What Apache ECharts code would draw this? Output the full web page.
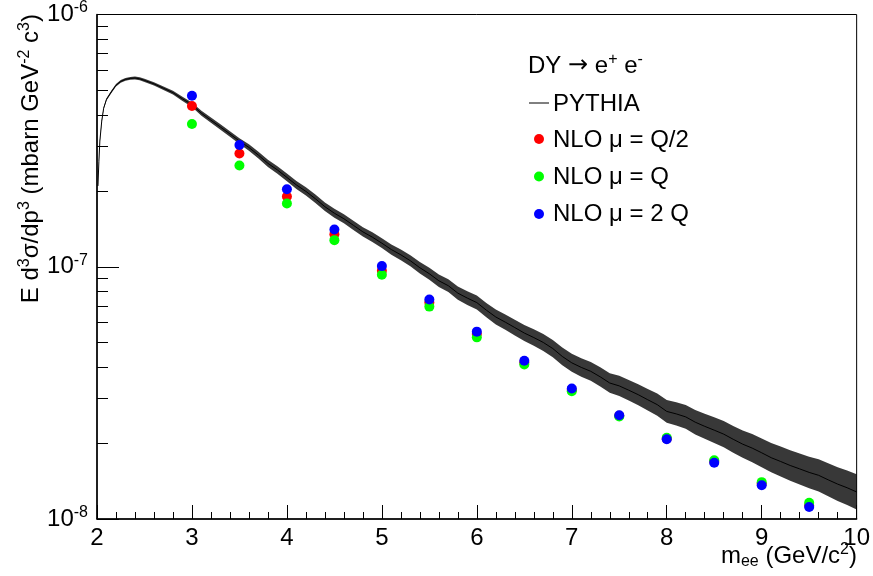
<!DOCTYPE html>
<html><head><meta charset="utf-8">
<script src="https://cdn.jsdelivr.net/npm/echarts@6/dist/echarts.min.js"></script>
<style>html,body{margin:0;padding:0;background:#fff}#c{width:873px;height:576px}</style>
</head><body><div id="c"></div>
<script>
// ---- data ----
const xTickLabels = [2,3,4,5,6,7,8,9,10];
const yMinorTicks = [2e-8,3e-8,4e-8,5e-8,6e-8,7e-8,8e-8,9e-8,2e-7,3e-7,4e-7,5e-7,6e-7,7e-7,8e-7,9e-7];

const pythiaX = [2.01,2.02,2.03,2.05,2.07,2.1,2.15,2.2,2.25,2.3,2.35,2.4,2.45,2.5,
  2.6,2.7,2.8,2.9,3.0,3.1,3.2,3.3,3.4,3.5,3.6,3.7,3.8,3.9,4.0,4.1,4.2,4.3,4.4,4.5,4.6,4.7,4.8,4.9,
  5.0,5.1,5.2,5.3,5.4,5.5,5.6,5.7,5.8,5.9,6.0,6.1,6.2,6.3,6.4,6.5,6.6,6.7,6.8,6.9,
  7.0,7.1,7.2,7.3,7.4,7.5,7.6,7.7,7.8,7.9,8.0,8.1,8.2,8.3,8.4,8.5,8.6,8.7,8.8,8.9,
  9.0,9.1,9.2,9.3,9.4,9.5,9.6,9.7,9.8,9.9,10.0];
const pythia = [2.09e-7,2.62e-7,3.15e-7,3.78e-7,4.25e-7,4.61e-7,4.93e-7,5.24e-7,5.43e-7,5.53e-7,5.58e-7,5.60e-7,5.56e-7,5.48e-7,
  5.31e-7,5.10e-7,4.90e-7,4.63e-7,4.39e-7,4.06e-7,3.81e-7,3.58e-7,3.36e-7,3.15e-7,2.97e-7,2.77e-7,2.57e-7,2.42e-7,
  2.26e-7,2.11e-7,1.99e-7,1.86e-7,1.73e-7,1.63e-7,1.55e-7,1.46e-7,1.375e-7,1.31e-7,
  1.24e-7,1.17e-7,1.115e-7,1.056e-7,9.91e-8,9.38e-8,8.80e-8,8.41e-8,7.86e-8,7.51e-8,
  7.21e-8,6.73e-8,6.32e-8,6.03e-8,5.74e-8,5.46e-8,5.24e-8,5.01e-8,4.74e-8,4.41e-8,
  4.16e-8,3.99e-8,3.85e-8,3.66e-8,3.46e-8,3.37e-8,3.24e-8,3.11e-8,2.97e-8,2.84e-8,
  2.67e-8,2.61e-8,2.54e-8,2.42e-8,2.33e-8,2.25e-8,2.17e-8,2.07e-8,1.98e-8,1.91e-8,
  1.83e-8,1.75e-8,1.69e-8,1.63e-8,1.58e-8,1.53e-8,1.49e-8,1.43e-8,1.375e-8,1.33e-8,1.28e-8];
// statistical fluctuation (percent) of the PYTHIA histogram around its trend
const pythiaSpread = [1.0,1.0,1.0,1.0,1.0,1.0,1.1,1.2,1.2,1.3,1.3,1.3,1.4,1.4,
  1.5,1.6,1.7,1.9,2.1,2.3,2.4,2.5,2.6,2.7,2.9,3.1,3.3,3.5,3.6,3.7,3.8,3.9,4.0,4.1,4.2,4.3,4.4,4.5,
  4.6,4.8,5.0,5.2,5.4,5.6,5.8,6.0,6.2,6.4,6.6,6.8,7.0,7.2,7.4,7.6,7.8,8.0,8.2,8.4,
  8.6,8.8,9.0,9.2,9.4,9.6,9.8,10.0,10.3,10.6,10.9,11.2,11.5,11.8,12.1,12.4,12.7,13.0,13.3,13.7,
  14.0,14.3,14.6,14.9,15.2,15.5,15.9,16.3,16.7,17.1,17.5];

const nloX = [3,3.5,4,4.5,5,5.5,6,6.5,7,7.5,8,8.5,9,9.5];
const nloHalfQ = [4.34e-7,2.81e-7,1.90e-7,1.346e-7,9.64e-8,7.21e-8,5.41e-8,4.17e-8,3.25e-8,2.565e-8,2.08e-8,1.69e-8,1.38e-8,1.13e-8];
const nloQ     = [3.68e-7,2.52e-7,1.78e-7,1.275e-7,9.30e-8,6.95e-8,5.25e-8,4.10e-8,3.21e-8,2.55e-8,2.10e-8,1.71e-8,1.40e-8,1.16e-8];
const nlo2Q    = [4.76e-7,3.04e-7,2.03e-7,1.406e-7,1.006e-7,7.41e-8,5.53e-8,4.24e-8,3.29e-8,2.58e-8,2.07e-8,1.67e-8,1.36e-8,1.115e-8];

// ---- chart ----
const FONT = '"Liberation Sans", Arial, Helvetica, sans-serif';
const FS = 24;
const zip = (xs, ys) => xs.map((x, i) => [x, ys[i]]);
const chart = echarts.init(document.getElementById('c'), null, {renderer: 'canvas'});

const supStyle = {fontSize: 16, fontFamily: FONT, color: '#000', padding: [0, 0, 13, 0]};
const subStyle = {fontSize: 16, fontFamily: FONT, color: '#000', padding: [11, 0, 0, 0]};
const baseStyle = (s) => ({fontSize: s, fontFamily: FONT, color: '#000'});

const option = {
  animation: false,
  backgroundColor: '#fff',
  grid: {left: 97, right: 16, top: 13, bottom: 57, show: true, borderColor: '#000', borderWidth: 1, backgroundColor: 'transparent'},
  xAxis: {
    type: 'value', min: 2, max: 10, interval: 1,
    axisLine: {lineStyle: {color: '#000', width: 1.5}},
    axisTick: {inside: true, length: 14, lineStyle: {color: '#000', width: 1}},
    minorTick: {show: true, splitNumber: 5, length: 7, lineStyle: {color: '#000', width: 1}},
    splitLine: {show: false},
    axisLabel: {color: '#000', fontSize: FS, fontFamily: FONT, margin: 7,
      customValues: xTickLabels, formatter: (v) => String(v)}
  },
  yAxis: [{
    type: 'log', logBase: 10, min: 1e-8, max: 1e-6,
    axisLine: {lineStyle: {color: '#000', width: 1.5}},
    axisTick: {inside: true, length: 22, lineStyle: {color: '#000', width: 1}},
    splitLine: {show: false},
    axisLabel: {
      margin: 9,
      formatter: (v) => '{b|10}{s|' + Math.round(Math.log10(v)) + '}',
      rich: {b: baseStyle(FS), s: supStyle}
    }
  }, {
    type: 'log', logBase: 10, min: 1e-8, max: 1e-6, position: 'left',
    axisLine: {show: false},
    axisTick: {inside: true, length: 11, customValues: yMinorTicks, lineStyle: {color: '#000', width: 1}},
    axisLabel: {show: false},
    splitLine: {show: false}
  }],
  series: [
    {
      name: 'PYTHIA band', type: 'custom', coordinateSystem: 'cartesian2d', silent: true,
      data: zip(pythiaX, pythia), encode: {x: 0, y: 1}, z: 2,
      renderItem: (params, api) => {
        if (params.dataIndex !== 0) return;
        const up = [], lo = [];
        for (let i = 0; i < pythiaX.length; i++) {
          const c = pythia[i], s = pythiaSpread[i] / 100;
          up.push(api.coord([pythiaX[i], c * (1 + s)]));
          lo.push(api.coord([pythiaX[i], c / (1 + s)]));
        }
        return {type: 'polygon', shape: {points: up.concat(lo.reverse())}, style: {fill: '#000', opacity: 0.78}};
      }
    },
    {name: 'PYTHIA', type: 'line', data: zip(pythiaX, pythia), showSymbol: false, symbol: 'none',
      lineStyle: {color: '#000', width: 1}, z: 3},
    {name: 'NLO μ = Q/2', type: 'scatter', data: zip(nloX, nloHalfQ), symbolSize: 10, itemStyle: {color: '#ff0000', opacity: 1}, z: 4},
    {name: 'NLO μ = Q', type: 'scatter', data: zip(nloX, nloQ), symbolSize: 10, itemStyle: {color: '#00ff00', opacity: 1}, z: 5},
    {name: 'NLO μ = 2 Q', type: 'scatter', data: zip(nloX, nlo2Q), symbolSize: 10, itemStyle: {color: '#0000ff', opacity: 1}, z: 6}
  ],
  graphic: [
    // y axis title
    {type: 'text', x: 31, y: 14, rotation: Math.PI / 2, z: 10,
      style: {text: '{n|E d}{p|3}{n|σ/dp}{p|3}{n| (mbarn GeV}{p|-2}{n| c}{p|3}{n|)}',
        align: 'right', verticalAlign: 'middle',
        rich: {n: baseStyle(FS), p: supStyle}}},
    // x axis title
    {type: 'text', x: 857, y: 556, z: 10,
      style: {text: '{n|m}{b|ee}{n| (GeV/c}{p|2}{n|)}', align: 'right', verticalAlign: 'middle',
        rich: {n: baseStyle(FS), b: subStyle, p: supStyle}}},
    // legend
    {type: 'text', x: 528, y: 66, z: 10,
      style: {text: '{n|DY }{a|→}{n| e}{p|+}{n| e}{p|-}', align: 'left', verticalAlign: 'middle',
        rich: {n: baseStyle(FS), p: supStyle,
          a: {fontSize: 24, fontFamily: '"DejaVu Sans", sans-serif', color: '#000'}}}},
    {type: 'line', z: 10, shape: {x1: 529, y1: 103, x2: 549, y2: 103}, style: {stroke: '#000', lineWidth: 1}},
    {type: 'text', x: 553, y: 104, z: 10, style: {text: 'PYTHIA', font: FS + 'px ' + FONT, fill: '#000', align: 'left', verticalAlign: 'middle'}},
    {type: 'circle', z: 10, shape: {cx: 539, cy: 139, r: 5}, style: {fill: '#ff0000'}},
    {type: 'text', x: 553, y: 140, z: 10, style: {text: 'NLO μ = Q/2', font: FS + 'px ' + FONT, fill: '#000', align: 'left', verticalAlign: 'middle'}},
    {type: 'circle', z: 10, shape: {cx: 539, cy: 176.5, r: 5}, style: {fill: '#00ff00'}},
    {type: 'text', x: 553, y: 177, z: 10, style: {text: 'NLO μ = Q', font: FS + 'px ' + FONT, fill: '#000', align: 'left', verticalAlign: 'middle'}},
    {type: 'circle', z: 10, shape: {cx: 539, cy: 214, r: 5}, style: {fill: '#0000ff'}},
    {type: 'text', x: 553, y: 214, z: 10, style: {text: 'NLO μ = 2 Q', font: FS + 'px ' + FONT, fill: '#000', align: 'left', verticalAlign: 'middle'}}
  ]
};
chart.setOption(option);
</script>
</body></html>
